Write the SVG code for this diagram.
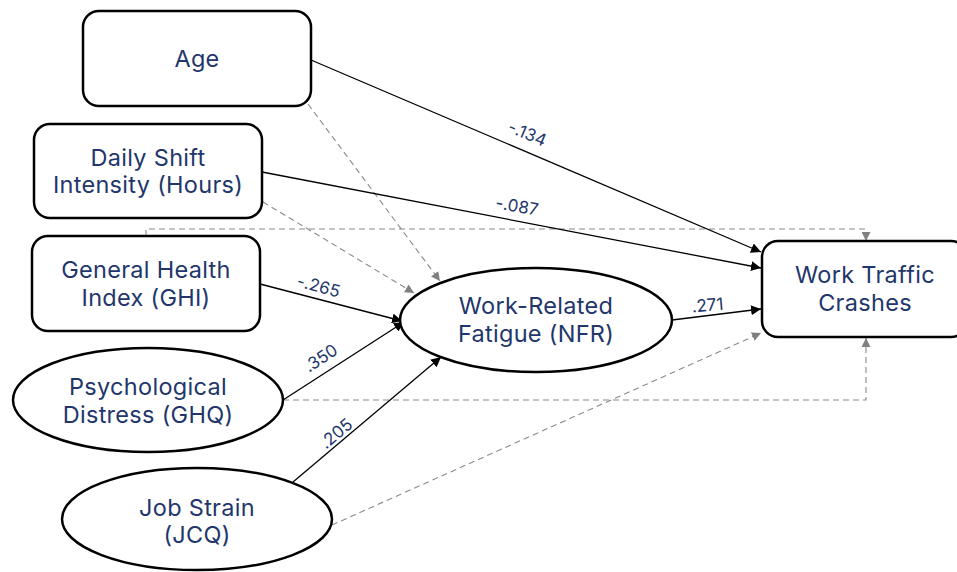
<svg xmlns="http://www.w3.org/2000/svg" width="957" height="572" viewBox="0 0 957 572">
<defs>
<marker id="ab" viewBox="0 0 10 10" refX="10" refY="5" markerWidth="10" markerHeight="10" markerUnits="userSpaceOnUse" orient="auto"><path d="M0,0 L10,5 L0,10 z" fill="#000"/></marker>
<marker id="ag" viewBox="0 0 10 10" refX="10" refY="5" markerWidth="9" markerHeight="9" markerUnits="userSpaceOnUse" orient="auto"><path d="M0,0 L10,5 L0,10 z" fill="#808080"/></marker>
<style>
.n{fill:#fff;stroke:#000;stroke-width:2.5}
.t{font-family:Inter,"Noto Sans","Liberation Sans",sans-serif;font-size:23.5px;font-weight:400;letter-spacing:0.3px;fill:#22366b;text-anchor:middle}
.l{font-family:Inter,"Noto Sans","Liberation Sans",sans-serif;font-size:17px;fill:#22366b;text-anchor:middle}
.s{fill:none;stroke:#000;stroke-width:1.3;marker-end:url(#ab)}
.d{fill:none;stroke:#8a8a8a;stroke-width:1.1;stroke-dasharray:6 4;marker-end:url(#ag)}
</style>
</defs>
<g id="connectors">
<path class="d" d="M146,236 V229 H866 V241"/>
<path class="d" d="M283,400 H866 V338"/>
<path class="d" d="M308,104 L440,281"/>
<path class="d" d="M263,202 L414,293"/>
<path class="d" d="M332,525 L761,333"/>
<path class="s" d="M311,60 L761,252"/>
<path class="s" d="M262,172 L761,268"/>
<path class="s" d="M260,284 L402,321"/>
<path class="s" d="M283,400 L404,322"/>
<path class="s" d="M293,482 L441,357"/>
<path class="s" d="M672,320 L761,309"/>
<text class="l" transform="translate(525,139) rotate(23)">-.134</text>
<text class="l" transform="translate(516,212) rotate(10)">-.087</text>
<text class="l" transform="translate(317,292) rotate(15)">-.265</text>
<text class="l" transform="translate(324,363) rotate(-33)">.350</text>
<text class="l" transform="translate(340,438) rotate(-40)">.205</text>
<text class="l" transform="translate(708,311) rotate(-5)">.271</text>
</g>
<g id="age"><rect class="n" x="83" y="11" width="228" height="95" rx="16"/><text class="t" x="197" y="67">Age</text></g>
<g id="shift"><rect class="n" x="34" y="124" width="228" height="94" rx="16"/><text class="t" x="148" y="166">Daily Shift</text><text class="t" x="148" y="193">Intensity (Hours)</text></g>
<g id="ghi"><rect class="n" x="32" y="236" width="228" height="95" rx="16"/><text class="t" x="146" y="278">General Health</text><text class="t" x="146" y="306">Index (GHI)</text></g>
<g id="ghq"><ellipse class="n" cx="148" cy="400" rx="135" ry="52"/><text class="t" x="148" y="395">Psychological</text><text class="t" x="148" y="423">Distress (GHQ)</text></g>
<g id="jcq"><ellipse class="n" cx="197" cy="519" rx="135" ry="51"/><text class="t" x="197" y="516">Job Strain</text><text class="t" x="197" y="543">(JCQ)</text></g>
<g id="nfr"><ellipse class="n" cx="536" cy="320" rx="136" ry="52"/><text class="t" x="536" y="314">Work-Related</text><text class="t" x="536" y="342">Fatigue (NFR)</text></g>
<g id="crashes"><rect class="n" x="762" y="241" width="205" height="96" rx="16"/><text class="t" x="865" y="283">Work Traffic</text><text class="t" x="865" y="311">Crashes</text></g>
</svg>
